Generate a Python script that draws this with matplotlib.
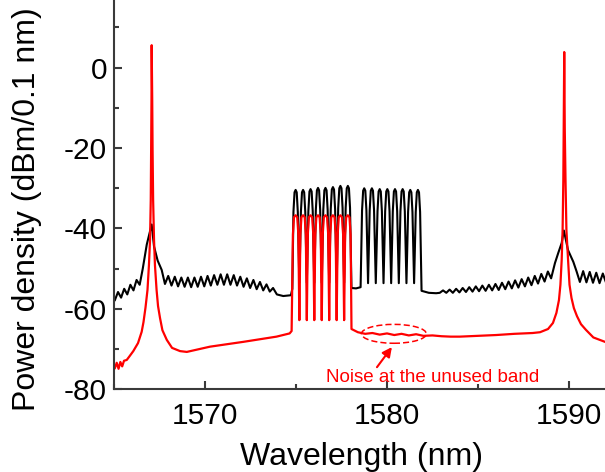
import matplotlib
matplotlib.use("Agg")
import matplotlib.pyplot as plt
from matplotlib.patches import Ellipse
from matplotlib.ticker import MultipleLocator

plt.rcParams['font.family'] = ['Liberation Sans', 'DejaVu Sans']
plt.rcParams['axes.unicode_minus'] = False

# ---- data ----
black_x = [
    1565.05, 1565.22, 1565.39, 1565.56, 1565.73, 1565.90, 1566.07, 1566.24, 1566.41, 1566.58,
    1566.80, 1567.07, 1567.20, 1567.40, 1567.62,
    1567.80, 1567.98, 1568.16, 1568.34, 1568.52, 1568.70, 1568.88, 1569.06, 1569.24, 1569.42,
    1569.60, 1569.78, 1569.96, 1570.14, 1570.32, 1570.50, 1570.68, 1570.86, 1571.04, 1571.22,
    1571.40, 1571.58, 1571.76, 1571.94, 1572.12, 1572.30, 1572.48, 1572.66, 1572.84, 1573.02,
    1573.20, 1573.38, 1573.56, 1573.74, 1573.95, 1574.30, 1574.72,
    # channels, group 1
    1574.80, 1574.86, 1574.92, 1574.98, 1575.04, 1575.10, 1575.185,
    1575.27, 1575.33, 1575.39, 1575.45, 1575.51, 1575.595,
    1575.68, 1575.74, 1575.80, 1575.86, 1575.92, 1576.005,
    1576.09, 1576.15, 1576.21, 1576.27, 1576.33, 1576.415,
    1576.50, 1576.56, 1576.62, 1576.68, 1576.74, 1576.825,
    1576.91, 1576.97, 1577.03, 1577.09, 1577.15, 1577.235,
    1577.32, 1577.38, 1577.44, 1577.50, 1577.56, 1577.645,
    1577.73, 1577.79, 1577.85, 1577.91, 1577.97, 1578.05,
    1578.30, 1578.55,
    # channels, group 2
    1578.63, 1578.69, 1578.75, 1578.81, 1578.87, 1578.96,
    1579.05, 1579.11, 1579.17, 1579.23, 1579.29, 1579.385,
    1579.48, 1579.54, 1579.60, 1579.66, 1579.72, 1579.81,
    1579.90, 1579.96, 1580.02, 1580.08, 1580.14, 1580.23,
    1580.32, 1580.38, 1580.44, 1580.50, 1580.56, 1580.65,
    1580.74, 1580.80, 1580.86, 1580.92, 1580.98, 1581.07,
    1581.16, 1581.22, 1581.28, 1581.34, 1581.40, 1581.49,
    1581.58, 1581.64, 1581.70, 1581.76, 1581.82, 1581.90,
    1582.30, 1582.70,
    1582.90, 1583.08, 1583.26, 1583.44, 1583.62, 1583.80, 1583.98, 1584.16, 1584.34, 1584.52,
    1584.70, 1584.88, 1585.06, 1585.24, 1585.42, 1585.60, 1585.78, 1585.96, 1586.14, 1586.32,
    1586.50, 1586.68, 1586.86, 1587.04, 1587.22, 1587.40, 1587.58, 1587.76, 1587.94, 1588.12,
    1588.30, 1588.48, 1588.66, 1588.84, 1589.02,
    1589.23, 1589.41, 1589.60, 1589.72, 1589.95, 1590.24, 1590.42,
    1590.60, 1590.78, 1590.96, 1591.14, 1591.32, 1591.50, 1591.68, 1591.86, 1592.04,
]
black_y = [
    -57.8, -55.8, -57.2, -55.0, -56.4, -54.0, -55.4, -52.8, -54.0, -50.0,
    -44.0, -39.0, -44.5, -48.0, -50.3,
    -53.8, -51.8, -54.2, -52.0, -54.4, -52.2, -54.5, -52.2, -54.6, -52.2,
    -54.5, -52.0, -54.4, -51.8, -54.2, -51.6, -54.0, -51.4, -54.0, -51.4,
    -54.0, -51.6, -54.2, -52.0, -54.5, -52.4, -54.8, -52.8, -55.1, -53.3,
    -55.4, -53.9, -55.7, -54.8, -56.4, -56.8, -56.6,
    -55.0, -35.9, -31.0, -30.4, -31.0, -35.9, -53.5,
    -35.9, -31.0, -30.4, -31.0, -35.9, -53.5,
    -35.7, -30.8, -30.2, -30.8, -35.7, -53.5,
    -35.4, -30.5, -29.9, -30.5, -35.4, -53.5,
    -35.4, -30.5, -29.9, -30.5, -35.4, -53.5,
    -35.2, -30.3, -29.7, -30.3, -35.2, -53.5,
    -34.9, -30.0, -29.4, -30.0, -34.9, -53.5,
    -34.9, -30.0, -29.4, -30.0, -34.9, -54.8,
    -54.9, -54.6,
    -35.5, -30.6, -30.0, -30.6, -35.5, -53.6,
    -35.5, -30.6, -30.0, -30.6, -35.5, -53.6,
    -35.7, -30.8, -30.2, -30.8, -35.7, -53.6,
    -35.7, -30.8, -30.2, -30.8, -35.7, -53.6,
    -35.7, -30.8, -30.2, -30.8, -35.7, -53.6,
    -35.7, -30.8, -30.2, -30.8, -35.7, -53.6,
    -35.9, -31.0, -30.4, -31.0, -35.9, -53.6,
    -35.9, -31.0, -30.4, -31.0, -35.9, -55.5,
    -56.0, -56.1,
    -56.0, -55.4, -56.0, -55.2, -56.0, -55.0, -55.9, -54.8, -55.8, -54.6,
    -55.7, -54.4, -55.6, -54.2, -55.5, -54.0, -55.4, -53.8, -55.3, -53.5,
    -55.1, -53.2, -54.9, -52.9, -54.7, -52.6, -54.4, -52.2, -54.1, -51.8,
    -53.7, -51.3, -53.2, -50.7, -52.4,
    -48.6, -46.1, -43.6, -40.5, -45.4, -48.3, -50.7,
    -53.3, -50.6, -53.4, -50.8, -53.5, -51.0, -53.6, -51.2, -53.5,
]

red_x = [
    1565.05, 1565.15, 1565.25, 1565.35, 1565.45, 1565.55, 1565.70, 1565.85, 1566.06, 1566.32,
    1566.52, 1566.62, 1566.73, 1566.84, 1566.92, 1566.98, 1567.02, 1567.04, 1567.06, 1567.07,
    1567.10, 1567.12, 1567.15, 1567.20, 1567.25, 1567.34, 1567.42, 1567.53, 1567.66, 1567.90,
    1568.19, 1568.63, 1569.00, 1570.27, 1572.10, 1573.93, 1574.65, 1574.76,
    # channels
    1574.83, 1574.89, 1574.98, 1575.07, 1575.13, 1575.185,
    1575.24, 1575.30, 1575.39, 1575.48, 1575.54, 1575.595,
    1575.65, 1575.71, 1575.80, 1575.89, 1575.95, 1576.005,
    1576.06, 1576.12, 1576.21, 1576.30, 1576.36, 1576.415,
    1576.47, 1576.53, 1576.62, 1576.71, 1576.77, 1576.825,
    1576.88, 1576.94, 1577.03, 1577.12, 1577.18, 1577.235,
    1577.29, 1577.35, 1577.44, 1577.53, 1577.59, 1577.645,
    1577.70, 1577.76, 1577.85, 1577.94, 1578.00, 1578.05,
    1578.40, 1578.80, 1579.20, 1579.60, 1580.00, 1580.40, 1580.80, 1581.20, 1581.60, 1582.00,
    1582.50, 1583.00, 1583.50, 1584.00, 1585.00, 1586.00, 1587.00, 1588.00,
    1588.41, 1588.85, 1589.12, 1589.31, 1589.45, 1589.53, 1589.60, 1589.65, 1589.69, 1589.71,
    1589.74, 1589.77, 1589.81, 1589.86, 1589.95, 1590.03, 1590.14, 1590.27, 1590.44, 1590.66,
    1590.93, 1591.34, 1591.98,
]
red_y = [
    -74.7, -73.4, -74.9, -73.2, -74.3, -72.9, -72.7, -71.8, -70.5, -68.5,
    -65.7, -63.3, -59.7, -55.3, -49.1, -42.9, -32.9, -20.5, -8.0, 5.6,
    -8.0, -20.5, -32.9, -42.9, -49.1, -55.3, -59.3, -62.3, -65.3, -67.7,
    -69.7, -70.5, -70.7, -69.4, -68.2, -66.9, -66.1, -65.5,
    -41.5, -37.2, -36.7, -37.2, -41.5, -62.8,
    -41.5, -37.2, -36.7, -37.2, -41.5, -62.8,
    -41.5, -37.2, -36.7, -37.2, -41.5, -62.8,
    -41.5, -37.2, -36.7, -37.2, -41.5, -62.8,
    -41.5, -37.2, -36.7, -37.2, -41.5, -62.8,
    -41.5, -37.2, -36.7, -37.2, -41.5, -62.8,
    -41.5, -37.2, -36.7, -37.2, -41.5, -62.8,
    -41.5, -37.2, -36.7, -37.2, -41.5, -65.0,
    -65.8, -66.2, -66.0, -66.4, -66.1, -66.5, -66.2, -66.6, -66.3, -66.7,
    -66.6, -66.8, -66.9, -66.9, -66.7, -66.5, -66.2, -66.0,
    -65.8, -65.0, -63.5, -61.0, -57.8, -54.0, -47.8, -40.4, -27.9, -15.5,
    3.9, -15.5, -27.9, -40.4, -47.8, -54.0, -57.3, -59.8, -61.8, -63.8,
    -65.2, -67.1, -68.2,
]

note_text = "Noise at the unused band"
note_xy = (1582.53, -78.1)
ellipse_center = (1580.38, -66.2)
arrow_tail = (1579.45, -74.5)
arrow_head = (1580.27, -69.5)

# ---- figure ----
fig = plt.figure(figsize=(6.05, 4.72), dpi=100)
ax = fig.add_axes([114 / 605, 1 - 389.3 / 472, 1 - 114 / 605, 389.3 / 472])

ax.plot(black_x, black_y, color="black", lw=1.5)
ax.plot(red_x, red_y, color="red", lw=1.6)

ax.set_xlim(1565.0, 1591.98)
ax.set_ylim(-80, 16.84)

ax.add_patch(Ellipse(ellipse_center, 3.57, 4.7, fill=False, edgecolor="red",
                     ls=(0, (4, 2)), lw=1.1))
ax.annotate("", xy=arrow_head, xytext=arrow_tail,
            arrowprops=dict(arrowstyle="-|>", color="red", lw=1.5,
                            mutation_scale=14, shrinkA=0, shrinkB=0))
ax.text(*note_xy, note_text, color="red", fontsize=13.5, ha="center", va="baseline")

for side in ("top", "right"):
    ax.spines[side].set_visible(False)
for side in ("left", "bottom"):
    ax.spines[side].set_color("#3a3a3a")
    ax.spines[side].set_linewidth(1.5)

ax.xaxis.set_major_locator(MultipleLocator(10))
ax.xaxis.set_minor_locator(MultipleLocator(5))
ax.yaxis.set_major_locator(MultipleLocator(20))
ax.yaxis.set_minor_locator(MultipleLocator(10))
ax.tick_params(which="both", direction="in", color="#3a3a3a", width=1.5,
               labelsize=21.5, top=False, right=False)
ax.tick_params(which="major", length=6)
ax.tick_params(which="minor", length=3.5)
ax.tick_params(axis="x", pad=9)
ax.tick_params(axis="y", pad=5)

fig.text(361 / 605, 7 / 472, "Wavelength (nm)", fontsize=23, ha="center", va="baseline")
fig.text(27 / 605, 1 - 209 / 472, "Power density (dBm/0.1 nm)", fontsize=23,
         rotation=90, ha="center", va="center")

fig.savefig("out.png", dpi=100)
